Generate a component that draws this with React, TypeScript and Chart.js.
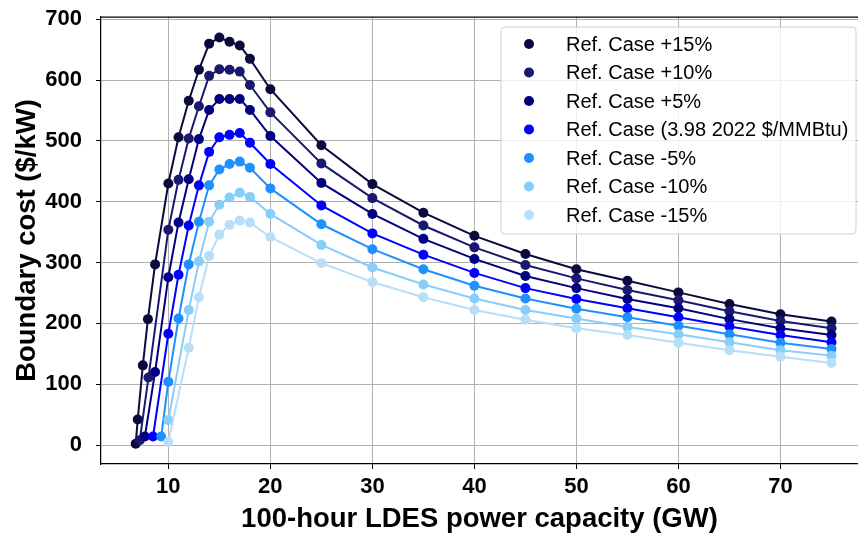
import React, { useEffect, useRef } from 'react';
import { Chart, registerables } from 'chart.js';

Chart.register(...registerables);

// ---------- data ----------
const seriesLabels = [
  'Ref. Case +15%',
  'Ref. Case +10%',
  'Ref. Case +5%',
  'Ref. Case (3.98 2022 $/MMBtu)',
  'Ref. Case -5%',
  'Ref. Case -10%',
  'Ref. Case -15%',
];
const seriesColors = ['#0a0a3e', '#191970', '#000080', '#0000ff', '#1e90ff', '#87cefa', '#b8def8'];

// common capacities (GW)
const mainX = [10, 11, 12, 13, 14, 15, 16, 17, 18, 20, 25, 30, 35, 40, 45, 50, 55, 60, 65, 70, 75];

// early (steep) part, per series
const earlyXp15 = [6.8, 7.0, 7.5, 8.0, 8.7];
const earlyYp15 = [2, 42, 131, 207, 297];
const earlyXp10 = [7.2, 8.05];
const earlyYp10 = [8, 111];
const earlyXp5 = [7.7, 8.7];
const earlyYp5 = [14, 120];
const earlyXbase = [8.5];
const earlyYbase = [14];
const earlyXm5 = [9.3];
const earlyYm5 = [14];
const earlyXm10: number[] = [];
const earlyYm10: number[] = [];
const earlyXm15: number[] = [];
const earlyYm15: number[] = [];

// values at mainX ($/kW); null = no point
const valP15 = [430, 506, 566, 617, 660, 670, 663, 657, 635, 585, 493, 429, 382, 344, 314, 289, 270, 251, 232, 215, 203];
const valP10 = [354, 436, 504, 557, 607, 618, 617, 614, 592, 547, 463, 406, 361, 325, 296, 274, 255, 238, 220, 204, 192];
const valP5 = [276, 366, 437, 503, 551, 569, 569, 569, 551, 508, 431, 380, 339, 306, 278, 258, 240, 225, 207, 192, 181];
const valBase = [183, 280, 361, 427, 482, 506, 510, 513, 497, 462, 394, 348, 313, 283, 258, 240, 225, 210, 195, 181, 169];
const valM5 = [104, 208, 297, 367, 427, 453, 462, 466, 456, 422, 363, 322, 289, 262, 241, 224, 210, 196, 182, 168, 158];
const valM10 = [41, null, 222, 302, 367, 395, 407, 415, 408, 380, 329, 292, 264, 241, 222, 208, 194, 182, 169, 156, 147];
const valM15 = [5, null, 160, 243, 311, 346, 362, 369, 366, 342, 299, 268, 243, 222, 206, 192, 181, 168, 156, 145, 135];

const earlyXs = [earlyXp15, earlyXp10, earlyXp5, earlyXbase, earlyXm5, earlyXm10, earlyXm15];
const earlyYs = [earlyYp15, earlyYp10, earlyYp5, earlyYbase, earlyYm5, earlyYm10, earlyYm15];
const mainVals = [valP15, valP10, valP5, valBase, valM5, valM10, valM15];

const xTickValues = [10, 20, 30, 40, 50, 60, 70];
const yTickValues = [0, 100, 200, 300, 400, 500, 600, 700];

const xTitle = '100-hour LDES power capacity (GW)';
const yTitle = 'Boundary cost ($/kW)';

const FONT = '"Liberation Sans", Arial, Helvetica, sans-serif';

function buildPoints(i: number) {
  const pts: { x: number; y: number }[] = [];
  earlyXs[i].forEach((x, k) => pts.push({ x, y: earlyYs[i][k] }));
  mainX.forEach((x, k) => {
    const v = mainVals[i][k];
    if (v !== null && v !== undefined) pts.push({ x, y: v as number });
  });
  return pts;
}

const boxLegendPlugin = {
  id: 'boxLegend',
  afterDraw(chart: any) {
    const ctx = chart.ctx as CanvasRenderingContext2D;
    const a = chart.chartArea;
    // top spine
    ctx.save();
    ctx.strokeStyle = '#000';
    ctx.lineWidth = 1.25;
    ctx.beginPath();
    ctx.moveTo(a.left, a.top);
    ctx.lineTo(a.right, a.top);
    ctx.stroke();
    ctx.restore();

    const left = a.right - 357;
    const top = a.top + 10;
    const w = 355;
    const h = 207;
    const r = 4;
    ctx.save();
    ctx.beginPath();
    ctx.moveTo(left + r, top);
    ctx.lineTo(left + w - r, top);
    ctx.quadraticCurveTo(left + w, top, left + w, top + r);
    ctx.lineTo(left + w, top + h - r);
    ctx.quadraticCurveTo(left + w, top + h, left + w - r, top + h);
    ctx.lineTo(left + r, top + h);
    ctx.quadraticCurveTo(left, top + h, left, top + h - r);
    ctx.lineTo(left, top + r);
    ctx.quadraticCurveTo(left, top, left + r, top);
    ctx.closePath();
    ctx.fillStyle = 'rgba(255,255,255,0.8)';
    ctx.fill();
    ctx.strokeStyle = '#d0d0d0';
    ctx.lineWidth = 1;
    ctx.stroke();

    ctx.font = `20px ${FONT}`;
    ctx.textBaseline = 'middle';
    ctx.textAlign = 'left';
    chart.data.datasets.forEach((ds: any, i: number) => {
      const y = top + 17 + i * 28.5;
      ctx.beginPath();
      ctx.arc(left + 28, y, 5, 0, Math.PI * 2);
      ctx.fillStyle = ds.borderColor;
      ctx.fill();
      ctx.fillStyle = '#000';
      ctx.fillText(ds.label, left + 65, y + 1);
    });
    ctx.restore();
  },
};

export default function App() {
  const canvasRef = useRef<HTMLCanvasElement | null>(null);

  useEffect(() => {
    if (!canvasRef.current) return;
    const datasets = seriesLabels.map((label, i) => ({
      label,
      data: buildPoints(i),
      borderColor: seriesColors[i],
      backgroundColor: seriesColors[i],
      pointBackgroundColor: seriesColors[i],
      pointBorderWidth: 0,
      pointRadius: 5,
      borderWidth: 2,
      tension: 0,
      order: seriesLabels.length - 1 - i,
    }));

    const chart = new Chart(canvasRef.current, {
      type: 'line',
      data: { datasets },
      plugins: [boxLegendPlugin],
      options: {
        responsive: false,
        animation: false,
        devicePixelRatio: 1,
        layout: { autoPadding: false, padding: { top: 17, right: 0, left: 0, bottom: 0 } },
        plugins: { legend: { display: false }, tooltip: { enabled: false } },
        scales: {
          x: {
            type: 'linear',
            min: 3.4,
            max: 77.6,
            afterBuildTicks: (scale: any) => {
              scale.ticks = xTickValues.map((v) => ({ value: v }));
            },
            afterFit: (scale: any) => {
              scale.height = 70;
              scale.paddingLeft = 0;
              scale.paddingRight = 0;
            },
            grid: { color: '#b0b0b0', lineWidth: 1, tickColor: '#000', tickLength: 5 },
            border: { color: '#000', width: 1.25 },
            ticks: {
              color: '#000',
              padding: 5,
              maxRotation: 0,
              font: { family: FONT, size: 22, weight: 'bold' },
            },
            title: {
              display: true,
              text: xTitle,
              color: '#000',
              padding: { top: 0, bottom: -2 },
              font: { family: FONT, size: 27.5, weight: 'bold' },
            },
          },
          y: {
            type: 'linear',
            min: -31.2,
            max: 703.8,
            afterBuildTicks: (scale: any) => {
              scale.ticks = yTickValues.map((v) => ({ value: v }));
            },
            afterFit: (scale: any) => {
              scale.width = 101;
              scale.paddingTop = 0;
              scale.paddingBottom = 0;
            },
            grid: { color: '#b0b0b0', lineWidth: 1, tickColor: '#000', tickLength: 5 },
            border: { color: '#000', width: 1.25 },
            ticks: {
              color: '#000',
              padding: 14,
              font: { family: FONT, size: 22, weight: 'bold' },
            },
            title: {
              display: true,
              text: yTitle,
              color: '#000',
              padding: { top: 10.5, bottom: 0 },
              font: { family: FONT, size: 27.5, weight: 'bold' },
            },
          },
        },
      },
    } as any);

    return () => chart.destroy();
  }, []);

  return (
    <div style={{ position: 'absolute', left: 0, top: 0, width: 858, height: 534, background: '#fff' }}>
      <canvas ref={canvasRef} width={858} height={534} style={{ display: 'block' }} />
    </div>
  );
}
